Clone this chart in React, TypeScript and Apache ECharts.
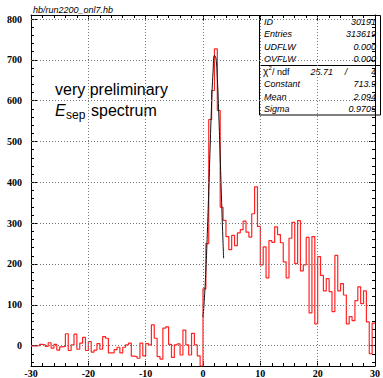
import React, { useEffect, useRef } from "react";
import * as echarts from "echarts";

const X_MIN = -30;
const X_MAX = 30;
const Y_MIN = -50;
const Y_MAX = 810;
const BIN_LOW = -30;
const BIN_WIDTH = 0.5;

// bin contents, x from -30 to 0 (0.5 wide bins)
const NEG_COUNTS = [
  -1, -1, 0, 3, 2, -2, 7, -6, 3, -11, -3, -2, 29, -12, 2, 28, -9, 6, 20, -12,
  10, -16, -11, 5, -9, 22, 18, -18, -18, -10,
  -4, -18, -4, 2, 6, -26, -27, -31, 6, -25, 5, 2, 51, 18, -27, -33, 43, 46, 3, -29,
  2, 4, -23, 38, 2, -23, 30, 2, -25, -50,
];
// bin contents, x from 0 to 30
const POS_COUNTS = [
  139, 250, 554, 625, 727, 576, 339, 307,
  267, 235, 270, 245, 276, 284, 305, 278, 266, 323, 389, 292,
  198, 242, 166, 257, 253, 291, 272, 252, 205, 166, 263, 302, 201, 306, 183, 198, 265, 80, 267, 53,
  218, 172, 134, 164, 132, 83, 221, 134, 152, 124, 53, 71, 61, 110, 144, 103, 134, 58, -20, 55,
];

// gaussian fit curve as drawn
const FIT_X = [0, 0.25, 0.5, 0.75, 1.0, 1.25, 1.5, 1.75, 2.0, 2.25, 2.5, 2.75, 3.0, 3.25, 3.5, 3.6];
const FIT_Y = [70, 117, 185, 274, 378, 489, 592, 670, 711, 705, 654, 568, 462, 351, 250, 214];

const X_GRID = [-20, -10, 0, 10, 20];
const Y_GRID = [0, 100, 200, 300, 400, 500, 600, 700, 800];

const HIST_TITLE = "hb/run2200_onl7.hb";
const STAT_LABELS = ["ID", "Entries", "UDFLW", "OVFLW"];
const STAT_VALUES = ["30191", "313619", "0.000", "0.000"];
const FIT_LABELS = ["Constant", "Mean", "Sigma"];
const FIT_VALUES = ["713.9", "2.094", "0.9705"];
const CHI2 = "25.71";
const NDF = "4";

export default function App() {
  const ref = useRef<HTMLDivElement>(null);

  useEffect(() => {
    if (!ref.current) return;
    const chart = echarts.init(ref.current, undefined, { renderer: "svg" });

    const counts = [...NEG_COUNTS, ...POS_COUNTS];
    const histPoints = counts.map((v, i) => [BIN_LOW + i * BIN_WIDTH, v]);
    histPoints.push([BIN_LOW + counts.length * BIN_WIDTH, counts[counts.length - 1]]);
    const fitPoints = FIT_X.map((x, i) => [x, FIT_Y[i]]);

    const tickFont = {
      fontFamily: "'Liberation Serif', serif",
      fontWeight: "bold" as const,
      fontSize: 10,
      color: "#000",
    };
    const blackLine = { show: true, onZero: false, lineStyle: { color: "#000", width: 1 } };

    const xAxisBase = {
      type: "value" as const,
      min: X_MIN,
      max: X_MAX,
      interval: 10,
      axisLine: blackLine,
      axisTick: { show: true, inside: true, length: 5, lineStyle: { color: "#000" } },
      minorTick: { show: true, splitNumber: 5, length: 3, lineStyle: { color: "#000" } },
      splitLine: { show: false },
    };
    const yAxisBase = {
      type: "value" as const,
      min: Y_MIN,
      max: Y_MAX,
      splitNumber: 9,
      axisLine: blackLine,
      axisTick: { show: true, inside: true, length: 6, lineStyle: { color: "#000" } },
      minorTick: { show: true, splitNumber: 5, length: 3, lineStyle: { color: "#000" } },
      splitLine: { show: false },
    };

    const statsLeft = 259.5;
    const statsRight = 380.5;
    const valueRight = 376;
    const topRows = [21.5, 34, 46.5, 59];
    const botRows = [71.5, 84, 96.5, 109];
    const statFont = { fontFamily: "'Liberation Sans', Arial, sans-serif", fontSize: 9, fontStyle: "italic" };

    const graphics: any[] = [
      {
        type: "text",
        x: 33,
        y: 10,
        style: { text: HIST_TITLE, ...statFont, fill: "#000", align: "left", verticalAlign: "middle" },
      },
      {
        type: "rect",
        shape: { x: statsLeft, y: 15.5, width: statsRight - statsLeft, height: 99.5 },
        style: { fill: "none", stroke: "#000", lineWidth: 1 },
      },
      {
        type: "line",
        shape: { x1: statsLeft, y1: 65.5, x2: statsRight, y2: 65.5 },
        style: { stroke: "#000", lineWidth: 1 },
      },
    ];
    STAT_LABELS.forEach((t, i) => {
      graphics.push({
        type: "text", x: 264, y: topRows[i],
        style: { text: t, ...statFont, fill: "#000", align: "left", verticalAlign: "middle" },
      });
      graphics.push({
        type: "text", x: valueRight, y: topRows[i],
        style: { text: STAT_VALUES[i], ...statFont, fill: "#000", align: "right", verticalAlign: "middle" },
      });
    });
    // chi2 / ndf row
    graphics.push({
      type: "text", x: 263, y: botRows[0],
      style: { text: "χ", fontFamily: "'Liberation Sans', sans-serif", fontSize: 10, fill: "#000", align: "left", verticalAlign: "middle" },
    });
    graphics.push({
      type: "text", x: 268.5, y: botRows[0] - 3.5,
      style: { text: "2", fontFamily: "'Liberation Sans', sans-serif", fontSize: 6, fill: "#000", align: "left", verticalAlign: "middle" },
    });
    graphics.push({
      type: "text", x: 272, y: botRows[0],
      style: { text: "/ ndf", fontFamily: "'Liberation Sans', sans-serif", fontSize: 9, fill: "#000", align: "left", verticalAlign: "middle" },
    });
    graphics.push({
      type: "text", x: 333, y: botRows[0],
      style: { text: CHI2, ...statFont, fill: "#000", align: "right", verticalAlign: "middle" },
    });
    graphics.push({
      type: "text", x: 346, y: botRows[0],
      style: { text: "/", ...statFont, fill: "#000", align: "center", verticalAlign: "middle" },
    });
    graphics.push({
      type: "text", x: valueRight, y: botRows[0],
      style: { text: NDF, ...statFont, fill: "#000", align: "right", verticalAlign: "middle" },
    });
    FIT_LABELS.forEach((t, i) => {
      graphics.push({
        type: "text", x: 264, y: botRows[i + 1],
        style: { text: t, ...statFont, fill: "#000", align: "left", verticalAlign: "middle" },
      });
      graphics.push({
        type: "text", x: valueRight, y: botRows[i + 1],
        style: { text: FIT_VALUES[i], ...statFont, fill: "#000", align: "right", verticalAlign: "middle" },
      });
    });
    // annotation
    const annFont = "'Liberation Sans', Arial, sans-serif";
    graphics.push({
      type: "text", x: 55, y: 89,
      style: { text: "very preliminary", fontFamily: annFont, fontSize: 16, fill: "#000", align: "left", verticalAlign: "middle" },
    });
    graphics.push({
      type: "text", x: 55, y: 110,
      style: { text: "E", fontFamily: annFont, fontSize: 16, fontStyle: "italic", fill: "#000", align: "left", verticalAlign: "middle" },
    });
    graphics.push({
      type: "text", x: 66, y: 115,
      style: { text: "sep", fontFamily: annFont, fontSize: 12, fill: "#000", align: "left", verticalAlign: "middle" },
    });
    graphics.push({
      type: "text", x: 91, y: 110,
      style: { text: "spectrum", fontFamily: annFont, fontSize: 16, fill: "#000", align: "left", verticalAlign: "middle" },
    });

    chart.setOption({
      animation: false,
      backgroundColor: "#fff",
      grid: { left: 31, right: 2, top: 15, bottom: 12, containLabel: false },
      xAxis: [
        {
          ...xAxisBase,
          position: "bottom",
          axisLabel: { margin: 2, showMinLabel: true, showMaxLabel: true, ...tickFont },
        },
        { ...xAxisBase, position: "top", axisLabel: { show: false } },
      ],
      yAxis: [
        {
          ...yAxisBase,
          position: "left",
          axisLabel: { margin: 9, showMinLabel: false, showMaxLabel: false, ...tickFont },
        },
        { ...yAxisBase, position: "right", axisLabel: { show: false } },
      ],
      series: [
        {
          type: "line",
          data: [[X_MIN, Y_MIN]],
          showSymbol: false,
          silent: true,
          lineStyle: { opacity: 0 },
          z: 1,
          markLine: {
            silent: true,
            symbol: "none",
            label: { show: false },
            lineStyle: { color: "#777", type: [1, 2], width: 1 },
            data: [
              ...X_GRID.map((v) => ({ xAxis: v })),
              ...Y_GRID.map((v) => ({ yAxis: v })),
            ],
          },
        },
        {
          type: "line",
          step: "end",
          data: histPoints,
          showSymbol: false,
          silent: true,
          clip: true,
          lineStyle: { color: "#ff2424", width: 1.2 },
          z: 3,
        },
        {
          type: "line",
          smooth: true,
          data: fitPoints,
          showSymbol: false,
          silent: true,
          lineStyle: { color: "#111", width: 1 },
          z: 4,
        },
      ],
      graphic: graphics,
    });

    return () => {
      chart.dispose();
    };
  }, []);

  return (
    <div
      ref={ref}
      style={{ position: "absolute", left: 0, top: 0, width: 383, height: 378 }}
    />
  );
}
